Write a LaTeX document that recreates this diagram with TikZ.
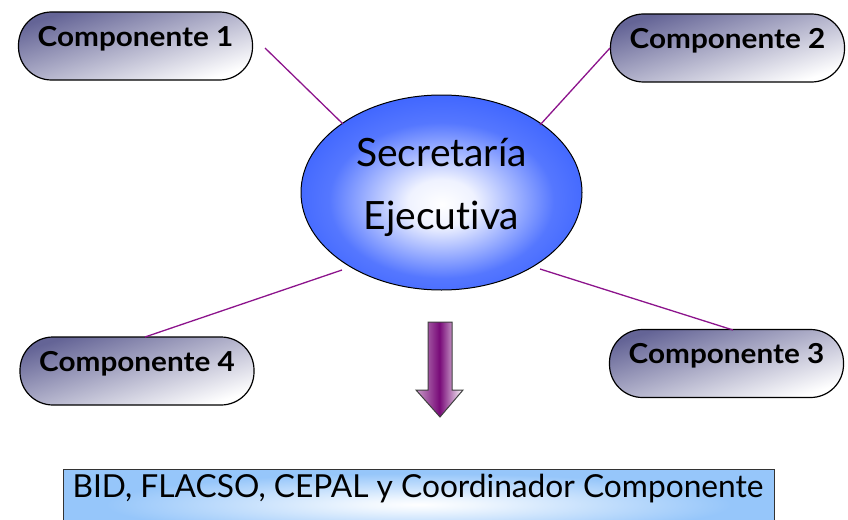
\documentclass[tikz,border=0pt]{standalone}
\usepackage{fontspec}
\setmainfont{Lato}[Ligatures={NoCommon}]
\usetikzlibrary{shapes.geometric}
\definecolor{compdark}{RGB}{100,100,150}
\definecolor{linepurple}{RGB}{140,20,140}
\definecolor{ellblue}{RGB}{55,95,255}
\definecolor{boxblue}{RGB}{150,198,250}
\definecolor{arrpurple}{RGB}{120,10,120}
\pgfdeclareradialshading{ellshade}{\pgfpoint{0bp}{-3bp}}{color(0bp)=(white); color(6bp)=(white!92!ellblue); color(20bp)=(ellblue!85!white); color(30bp)=(ellblue); color(60bp)=(ellblue)}
\pgfdeclareradialshading{boxshade}{\pgfpoint{0bp}{0bp}}{color(0bp)=(white); color(4bp)=(white!85!boxblue); color(22bp)=(boxblue); color(60bp)=(boxblue)}
\tikzset{
  comp/.style={draw=black, line width=1.2pt, rounded corners=33pt, minimum width=234pt, minimum height=68pt,
    shading=axis, top color=compdark, bottom color=white, shading angle=18},
  comptext/.style={font=\fontsize{27.5}{30}\selectfont\bfseries, inner sep=0pt},
  link/.style={draw=linepurple, line width=1.3pt},
  sec/.style={ellipse, draw=black, line width=1pt, minimum width=281pt, minimum height=195pt, shading=ellshade},
  sectext/.style={font=\fontsize{39}{63}\selectfont, align=center, inner sep=0pt},
  bottombox/.style={draw=black!80, line width=1pt, shading=boxshade},
}
\newcommand{\comptxt}[1]{\scalebox{1.08}[1]{#1}}
\begin{document}
\begin{tikzpicture}[x=1pt,y=-1pt]
\useasboundingbox (0,0) rectangle (848,519);
% central ellipse
\node[sec] (sec) at (441.5,192.5) {};
\node[sectext, anchor=base] (sect1) at (441.5,166) {Secretaría};
\node[sectext, anchor=base] (sect2) at (441.5,229) {Ejecutiva};
% components
\node[comp] (c1) at (135.5,46) {};
\node[comptext] (t1) at ([yshift=7pt]c1.center) {\comptxt{Componente 1}};
\node[comp] (c2) at (727.5,48) {};
\node[comptext] (t2) at ([yshift=7pt]c2.center) {\comptxt{Componente 2}};
\node[comp] (c3) at (726.5,363.5) {};
\node[comptext] (t3) at ([yshift=8pt]c3.center) {\comptxt{Componente 3}};
\node[comp] (c4) at (137,371) {};
\node[comptext] (t4) at ([yshift=7pt]c4.center) {\comptxt{Componente 4}};
% connector end points
\coordinate (e1) at (343,124);
\coordinate (s1) at (265,48);
\coordinate (e2) at (540,125);
\coordinate (s2) at (610,48);
\coordinate (e3) at (540,269);
\coordinate (s3) at (733,330);
\coordinate (e4) at (342,270);
\coordinate (s4) at (145,337);
\draw[link] (s1) -- (e1);
\draw[link] (s2) -- (e2);
\draw[link] (s3) -- (e3);
\draw[link] (s4) -- (e4);
% arrow
\draw[black!75, line width=1pt, left color=white!60!arrpurple, right color=white, middle color=arrpurple]
  (428,322) -- (452,322) -- (452,390) -- (463,390) -- (440,417) -- (416,390) -- (428,390) -- cycle;
% bottom box
\draw[bottombox] (63,469) rectangle (774,540);
\node[font=\fontsize{31.7}{34}\selectfont, anchor=base, inner sep=0pt] (bt) at (418,497) {BID, FLACSO, CEPAL y Coordinador Componente};
\end{tikzpicture}
\end{document}
